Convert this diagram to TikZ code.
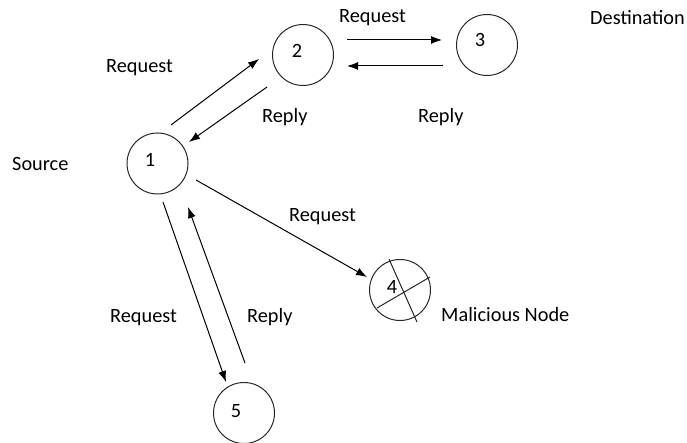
\documentclass[tikz,border=0pt]{standalone}
\usepackage{fontspec}
\setmainfont{Carlito}
\usetikzlibrary{arrows.meta,calc}
\begin{document}
\begin{tikzpicture}[x=1pt,y=-1pt,
  circ/.style={draw=black!85,line width=1pt,circle,minimum size=61pt,inner sep=0pt},
  lbl/.style={anchor=base west,inner sep=0pt,font=\fontsize{20.3}{24}\selectfont,text=black},
  num/.style={anchor=base,inner sep=0pt,font=\fontsize{20.3}{24}\selectfont,text=black},
  arr/.style={line width=1pt,-{Latex[length=11pt,width=8pt]}},
  crossline/.style={line width=1pt,draw=black!85}]
\useasboundingbox (0,0) rectangle (687,443);
% circles
\node[circ] (n1) at (157.5,163.5) {};
\node[circ] (n2) at (303,55) {};
\node[circ] (n3) at (487,45) {};
\node[circ] (n4) at (400,290) {};
\node[circ] (n5) at (244,413) {};
% digits
\node[num] (d1) at (150,167) {1};
\node[num] (d2) at (297,58) {2};
\node[num] (d3) at (480,47) {3};
\node[num] (d4) at (392,293) {4};
\node[num] (d5) at (236,417) {5};
% cross in node 4
\draw[crossline] ($(n4.center)+(-11,-31)$) -- ($(n4.center)+(17,32)$);
\draw[crossline] ($(n4.center)+(-23,18)$) -- ($(n4.center)+(30,-13)$);
% arrows
\draw[arr] ($(n1.center)+(13.5,-38.5)$) -- ($(n2.center)+(-44,4)$);
\draw[arr] ($(n2.center)+(-36,32)$) -- ($(n1.center)+(31.5,-21.5)$);
\draw[arr] ($(n2.center)+(44,-15)$) -- ($(n3.center)+(-45,-5)$);
\draw[arr] ($(n3.center)+(-44,21)$) -- ($(n2.center)+(44,11)$);
\draw[arr] ($(n1.center)+(38.5,16.5)$) -- ($(n4.center)+(-33,-13)$);
\draw[arr] ($(n1.center)+(5.5,38.5)$) -- ($(n5.center)+(-18,-31)$);
\draw[arr] ($(n5.center)+(1,-50)$) -- ($(n1.center)+(30.5,43.5)$);
% labels
\node[lbl] (l1) at (106,73) {Request};
\node[lbl] (l2) at (262,123) {Reply};
\node[lbl] (l3) at (339,23) {Request};
\node[lbl] (l4) at (418,123) {Reply};
\node[lbl] (l5) at (590,25) {Destination};
\node[lbl] (l6) at (12,171) {Source};
\node[lbl] (l7) at (289,222) {Request};
\node[lbl] (l8) at (110,322) {Request};
\node[lbl] (l9) at (247,322) {Reply};
\node[lbl] (l10) at (441,321) {Malicious Node};
\end{tikzpicture}
\end{document}
